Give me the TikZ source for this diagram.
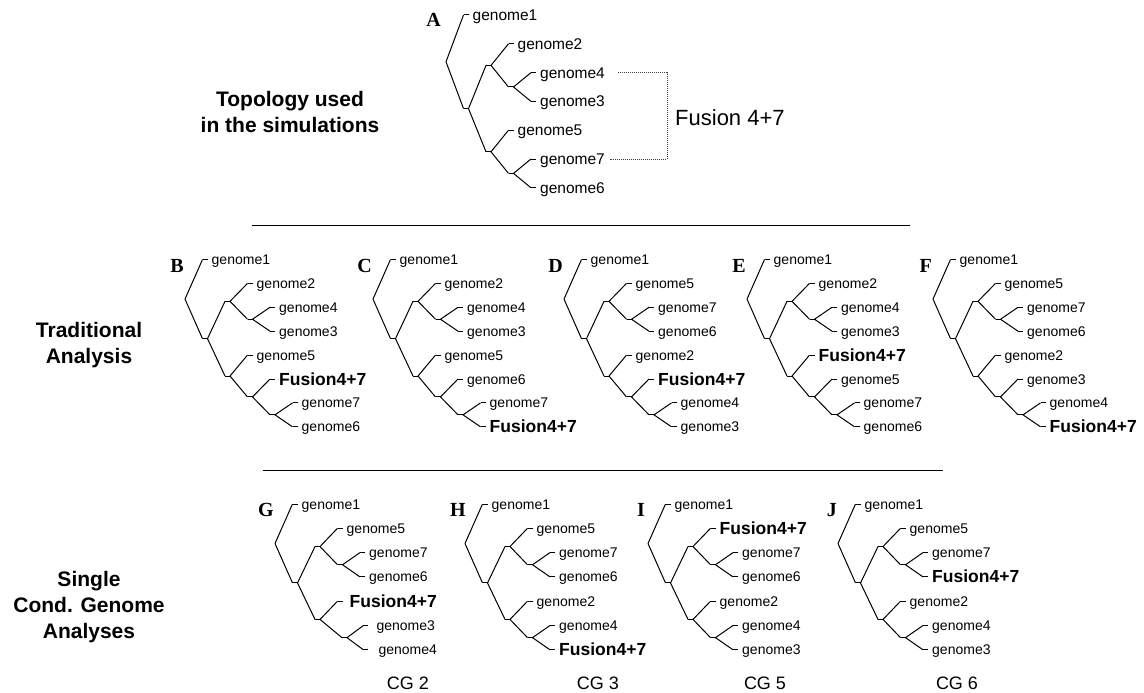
\documentclass[tikz,border=0pt]{standalone}
\usepackage{fontspec}
\usetikzlibrary{calc}
\newfontfamily\ar{Liberation Sans}
\newfontfamily\tnr{Liberation Serif}
\newcommand\gen{\ar\fontsize{14}{16}\selectfont}
\newcommand\genA{\ar\fontsize{15.5}{17}\selectfont}
\newcommand\fzf{\ar\bfseries\fontsize{17.5}{20}\selectfont}
\newcommand\hdf{\ar\bfseries\fontsize{21}{26}\selectfont}
\newcommand\letf{\tnr\bfseries\fontsize{20}{22}\selectfont}
\newcommand\cgf{\ar\fontsize{18}{20}\selectfont}
\tikzset{
  br/.style={line width=1pt, line join=round},
  lab/.style={anchor=base west, inner sep=0pt, font=\gen},
  labA/.style={font=\genA, yshift=-0.5pt},
  fz/.style={font=\fzf, yshift=-1pt},
  hd/.style={font=\hdf, align=center, inner sep=0pt},
  letter/.style={font=\letf, inner sep=0pt, anchor=east},
  cg/.style={font=\cgf, inner sep=0pt},
  sep/.style={line width=1pt},
  fusdot/.style={line width=0.8pt, black!75, dash pattern=on 1pt off 1pt}
}
% leaf: [label style]{name}{depth}{y}{text}
\newcommand\Lf[5][]{%
  \expandafter\xdef\csname ty#2\endcsname{#4}%
  \coordinate (#2) at ({\rx+22.5*#3-5},#4);
  \coordinate (#2e) at ({\rx+22.5*#3},#4);
  \draw[br] (#2) -- (#2e);
  \node[lab,#1] (#2t) at ([xshift=4pt,yshift=-5pt]#2e) {#5};
}
% inner node: {name}{depth}{child1}{child2}
\newcommand\In[4]{%
  \pgfmathsetmacro\tmpy{(\csname ty#3\endcsname+\csname ty#4\endcsname)/2}%
  \expandafter\xdef\csname ty#1\endcsname{\tmpy}%
  \coordinate (#1) at ({\rx+22.5*#2-5},\tmpy);
  \coordinate (#1e) at ({\rx+22.5*#2},\tmpy);
  \draw[br] (#1) -- (#1e);
  \draw[br] (#3) -- (#1e) -- (#4);
}
% root: {name}{child1}{child2}
\newcommand\Rt[3]{%
  \pgfmathsetmacro\tmpy{(\csname ty#2\endcsname+\csname ty#3\endcsname)/2}%
  \coordinate (#1) at (\rx,\tmpy);
  \draw[br] (#2) -- (#1) -- (#3);
}
\begin{document}
\begin{tikzpicture}[x=1pt,y=-1pt]
\useasboundingbox (0,0) rectangle (1144,693);

% ---------- side headings ----------
\node[hd] (hTop) at (290,112) {Topology used\\in the simulations};
\node[hd] (hTrad) at (89,345) {Traditional\\Analysis};
\node[hd] (hSing) at (89,607.5) {Single\\Cond. Genome\\Analyses};

% ---------- separators ----------
\coordinate (s1a) at (252,225); \coordinate (s1b) at (910,225);
\coordinate (s2a) at (263,470); \coordinate (s2b) at (943,470);
\draw[sep] (s1a) -- (s1b);
\draw[sep] (s2a) -- (s2b);

% ---------- Tree A ----------
\def\rx{446}
\Lf[labA]{Ag1}{1}{15}{genome1}
\Lf[labA]{Ag2}{3}{43.8}{genome2}
\Lf[labA]{Ag4}{4}{72.6}{genome4}
\Lf[labA]{Ag3}{4}{101.4}{genome3}
\Lf[labA]{Ag5}{3}{130.2}{genome5}
\Lf[labA]{Ag7}{4}{159}{genome7}
\Lf[labA]{Ag6}{4}{187.8}{genome6}
\In{An3}{3}{Ag4}{Ag3}
\In{An2}{2}{Ag2}{An3}
\In{An5}{3}{Ag7}{Ag6}
\In{An4}{2}{Ag5}{An5}
\In{An1}{1}{An2}{An4}
\Rt{Ar}{Ag1}{An1}
\node[letter] (Al) at (441,20) {A};
\coordinate (fd4) at (618,72.6);
\coordinate (fd7) at (610,159);
\coordinate (fbr) at (667,0);
\draw[fusdot] (fd4) -| (fbr |- fd7) -- (fd7);
\node[font=\ar\fontsize{22}{24}\selectfont, anchor=west, inner sep=0pt] (fus) at (675,118) {Fusion 4+7};

% ---------- Tree B ----------
\def\rx{185}
\Lf{Bg1}{1}{259.5}{genome1}
\Lf{Bg2}{3}{283.4}{genome2}
\Lf{Bg4}{4}{307.3}{genome4}
\Lf{Bg3}{4}{331.2}{genome3}
\Lf{Bg5}{3}{355.1}{genome5}
\Lf[fz]{BF}{4}{379.0}{Fusion4+7}
\Lf{Bg7}{5}{402.9}{genome7}
\Lf{Bg6}{5}{426.8}{genome6}
\In{Bn3}{3}{Bg4}{Bg3}
\In{Bn2}{2}{Bg2}{Bn3}
\In{Bn6}{4}{Bg7}{Bg6}
\In{Bn5}{3}{BF}{Bn6}
\In{Bn4}{2}{Bg5}{Bn5}
\In{Bn1}{1}{Bn2}{Bn4}
\Rt{Br}{Bg1}{Bn1}
\node[letter] (Bl) at (184,265.5) {B};

% ---------- Tree C ----------
\def\rx{373}
\Lf{Cg1}{1}{259.5}{genome1}
\Lf{Cg2}{3}{283.4}{genome2}
\Lf{Cg4}{4}{307.3}{genome4}
\Lf{Cg3}{4}{331.2}{genome3}
\Lf{Cg5}{3}{355.1}{genome5}
\Lf{Cg6}{4}{379.0}{genome6}
\Lf{Cg7}{5}{402.9}{genome7}
\Lf[fz]{CF}{5}{426.8}{Fusion4+7}
\In{Cn3}{3}{Cg4}{Cg3}
\In{Cn2}{2}{Cg2}{Cn3}
\In{Cn6}{4}{Cg7}{CF}
\In{Cn5}{3}{Cg6}{Cn6}
\In{Cn4}{2}{Cg5}{Cn5}
\In{Cn1}{1}{Cn2}{Cn4}
\Rt{Cr}{Cg1}{Cn1}
\node[letter] (Cl) at (372,265.5) {C};

% ---------- Tree D ----------
\def\rx{564}
\Lf{Dg1}{1}{259.5}{genome1}
\Lf{Dg5}{3}{283.4}{genome5}
\Lf{Dg7}{4}{307.3}{genome7}
\Lf{Dg6}{4}{331.2}{genome6}
\Lf{Dg2}{3}{355.1}{genome2}
\Lf[fz]{DF}{4}{379.0}{Fusion4+7}
\Lf{Dg4}{5}{402.9}{genome4}
\Lf{Dg3}{5}{426.8}{genome3}
\In{Dn3}{3}{Dg7}{Dg6}
\In{Dn2}{2}{Dg5}{Dn3}
\In{Dn6}{4}{Dg4}{Dg3}
\In{Dn5}{3}{DF}{Dn6}
\In{Dn4}{2}{Dg2}{Dn5}
\In{Dn1}{1}{Dn2}{Dn4}
\Rt{Dr}{Dg1}{Dn1}
\node[letter] (Dl) at (563,265.5) {D};

% ---------- Tree E ----------
\def\rx{747}
\Lf{Eg1}{1}{259.5}{genome1}
\Lf{Eg2}{3}{283.4}{genome2}
\Lf{Eg4}{4}{307.3}{genome4}
\Lf{Eg3}{4}{331.2}{genome3}
\Lf[fz]{EF}{3}{355.1}{Fusion4+7}
\Lf{Eg5}{4}{379.0}{genome5}
\Lf{Eg7}{5}{402.9}{genome7}
\Lf{Eg6}{5}{426.8}{genome6}
\In{En3}{3}{Eg4}{Eg3}
\In{En2}{2}{Eg2}{En3}
\In{En6}{4}{Eg7}{Eg6}
\In{En5}{3}{Eg5}{En6}
\In{En4}{2}{EF}{En5}
\In{En1}{1}{En2}{En4}
\Rt{Er}{Eg1}{En1}
\node[letter] (El) at (746,265.5) {E};

% ---------- Tree F ----------
\def\rx{933}
\Lf{Fg1}{1}{259.5}{genome1}
\Lf{Fg5}{3}{283.4}{genome5}
\Lf{Fg7}{4}{307.3}{genome7}
\Lf{Fg6}{4}{331.2}{genome6}
\Lf{Fg2}{3}{355.1}{genome2}
\Lf{Fg3}{4}{379.0}{genome3}
\Lf{Fg4}{5}{402.9}{genome4}
\Lf[fz]{FF}{5}{426.8}{Fusion4+7}
\In{Fn3}{3}{Fg7}{Fg6}
\In{Fn2}{2}{Fg5}{Fn3}
\In{Fn6}{4}{Fg4}{FF}
\In{Fn5}{3}{Fg3}{Fn6}
\In{Fn4}{2}{Fg2}{Fn5}
\In{Fn1}{1}{Fn2}{Fn4}
\Rt{Fr}{Fg1}{Fn1}
\node[letter] (Fl) at (932,265.5) {F};

% ---------- Tree G ----------
\def\rx{275}
\Lf{Gg1}{1}{504}{genome1}
\Lf{Gg5}{3}{528.3}{genome5}
\Lf{Gg7}{4}{552.6}{genome7}
\Lf{Gg6}{4}{576.9}{genome6}
\Lf[fz,xshift=3pt]{GF}{3}{601.2}{Fusion4+7}
\Lf[xshift=4pt]{Gg3}{4.15}{625.5}{genome3}
\Lf[xshift=6pt]{Gg4}{4.15}{649.8}{genome4}
\In{Gn3}{3}{Gg7}{Gg6}
\In{Gn2}{2}{Gg5}{Gn3}
\In{Gn5}{3.2}{Gg3}{Gg4}
\In{Gn4}{2}{GF}{Gn5}
\In{Gn1}{1}{Gn2}{Gn4}
\Rt{Gr}{Gg1}{Gn1}
\node[letter] (Gl) at (274,510) {G};

% ---------- Tree H ----------
\def\rx{465}
\Lf{Hg1}{1}{504}{genome1}
\Lf{Hg5}{3}{528.3}{genome5}
\Lf{Hg7}{4}{552.6}{genome7}
\Lf{Hg6}{4}{576.9}{genome6}
\Lf{Hg2}{3}{601.2}{genome2}
\Lf{Hg4}{4}{625.5}{genome4}
\Lf[fz]{HF}{4}{649.8}{Fusion4+7}
\In{Hn3}{3}{Hg7}{Hg6}
\In{Hn2}{2}{Hg5}{Hn3}
\In{Hn5}{3}{Hg4}{HF}
\In{Hn4}{2}{Hg2}{Hn5}
\In{Hn1}{1}{Hn2}{Hn4}
\Rt{Hr}{Hg1}{Hn1}
\node[letter] (Hl) at (466,510) {H};

% ---------- Tree I ----------
\def\rx{648}
\Lf{Ig1}{1}{504}{genome1}
\Lf[fz]{IF}{3}{528.3}{Fusion4+7}
\Lf{Ig7}{4}{552.6}{genome7}
\Lf{Ig6}{4}{576.9}{genome6}
\Lf{Ig2}{3}{601.2}{genome2}
\Lf{Ig4}{4}{625.5}{genome4}
\Lf{Ig3}{4}{649.8}{genome3}
\In{In3}{3}{Ig7}{Ig6}
\In{In2}{2}{IF}{In3}
\In{In5}{3}{Ig4}{Ig3}
\In{In4}{2}{Ig2}{In5}
\In{In1}{1}{In2}{In4}
\Rt{Ir}{Ig1}{In1}
\node[letter] (Il) at (645,510) {I};

% ---------- Tree J ----------
\def\rx{838}
\Lf{Jg1}{1}{504}{genome1}
\Lf{Jg5}{3}{528.3}{genome5}
\Lf{Jg7}{4}{552.6}{genome7}
\Lf[fz]{JF}{4}{576.9}{Fusion4+7}
\Lf{Jg2}{3}{601.2}{genome2}
\Lf{Jg4}{4}{625.5}{genome4}
\Lf{Jg3}{4}{649.8}{genome3}
\In{Jn3}{3}{Jg7}{JF}
\In{Jn2}{2}{Jg5}{Jn3}
\In{Jn5}{3}{Jg4}{Jg3}
\In{Jn4}{2}{Jg2}{Jn5}
\In{Jn1}{1}{Jn2}{Jn4}
\Rt{Jr}{Jg1}{Jn1}
\node[letter] (Jl) at (837,510) {J};

% ---------- CG labels ----------
\node[cg] (cg2) at (408,683) {CG 2};
\node[cg] (cg3) at (598,683) {CG 3};
\node[cg] (cg5) at (765,683) {CG 5};
\node[cg] (cg6) at (957,683) {CG 6};
\end{tikzpicture}
\end{document}
